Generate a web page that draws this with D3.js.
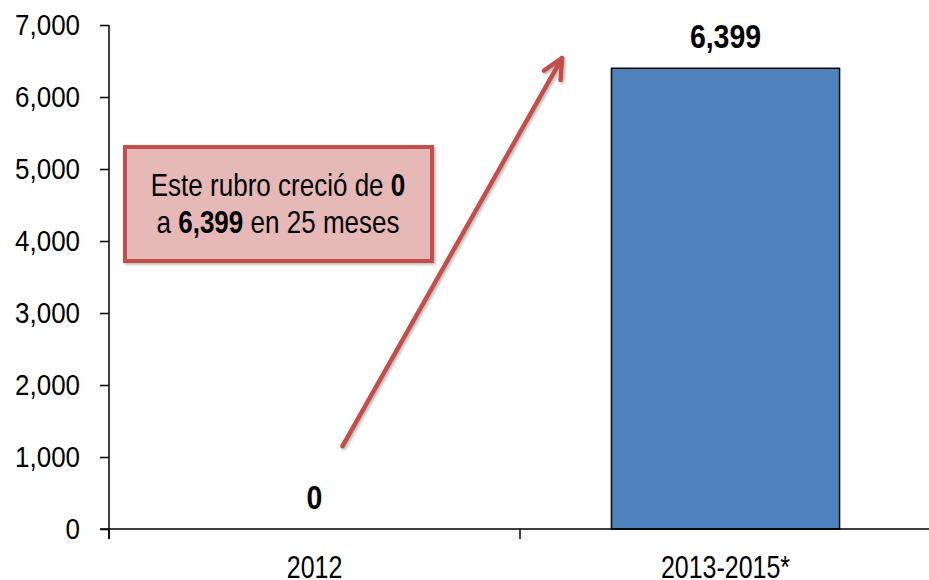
<!DOCTYPE html>
<html lang="es">
<head>
<meta charset="utf-8">
<script src="https://cdn.jsdelivr.net/npm/d3@7"></script>
<style>
  body { margin: 0; background: #fff; }
  text { font-family: "Liberation Sans", Arial, sans-serif; fill: #000; }
</style>
</head>
<body>
<svg id="chart" width="929" height="580"></svg>
<script>
// data
const categories = ["2012", "2013-2015*"];
const values = [0, 6399];
const yTicks = [0, 1000, 2000, 3000, 4000, 5000, 6000, 7000];
const noteLine1 = ["Este rubro creció de ", "0"];
const noteLine2 = ["a ", "6,399", " en 25 meses"];

const w = 929, h = 580;
const svg = d3.select("#chart");

const x = d3.scaleBand()
  .domain(categories)
  .range([109, 931]);

const y = d3.scaleLinear()
  .domain([0, 7000])
  .range([529, 25]);

const fmt = d3.format(",");

// narrow text: place at (px,py) and squeeze horizontally
function squeeze(sel, px, py, s) {
  return sel.attr("transform", (d, i) => {
    const X = typeof px === "function" ? px(d, i) : px;
    const Y = typeof py === "function" ? py(d, i) : py;
    return "translate(" + X + "," + Y + ") scale(" + s + ",1)";
  });
}

// bars
const barW = x.bandwidth() * 0.555;
svg.selectAll("rect.bar")
  .data(values)
  .enter()
  .append("rect")
  .attr("class", "bar")
  .attr("x", (d, i) => x(categories[i]) + (x.bandwidth() - barW) / 2)
  .attr("y", d => y(d))
  .attr("width", barW)
  .attr("height", d => y(0) - y(d))
  .attr("fill", "#4F81BD")
  .attr("stroke", d => d > 0 ? "#000" : "none")
  .attr("stroke-width", 1.5);

// value labels
svg.selectAll("text.val")
  .data(values)
  .enter()
  .append("text")
  .attr("class", "val")
  .attr("text-anchor", "middle")
  .attr("font-size", 33.5)
  .attr("font-weight", "bold")
  .call(squeeze, (d, i) => x(categories[i]) + x.bandwidth() / 2, d => y(d) - 20, 0.85)
  .text(d => fmt(d));

// y axis
const yAxis = d3.axisLeft(y).tickValues(yTicks).tickFormat(fmt).tickSize(9).tickPadding(20);
const gy = svg.append("g")
  .attr("transform", "translate(109,0)")
  .call(yAxis);
gy.select(".domain").attr("d", "M0,25V539").attr("stroke", "#000").attr("stroke-width", 1.5);
gy.selectAll(".tick line").attr("stroke", "#000").attr("stroke-width", 1.5);
gy.selectAll(".tick text")
  .attr("font-size", 29.5)
  .attr("fill", "#000")
  .style("font-family", "'Liberation Sans', Arial, sans-serif")
  .attr("x", -29 / 0.88)
  .attr("transform", "scale(0.88,1)");

// x axis
const gx = svg.append("g")
  .attr("transform", "translate(0," + y(0) + ")");
gx.append("line")
  .attr("x1", 100).attr("x2", w)
  .attr("stroke", "#000").attr("stroke-width", 1.5);
gx.selectAll("line.tk")
  .data(categories)
  .enter()
  .append("line")
  .attr("class", "tk")
  .attr("x1", d => x(d)).attr("x2", d => x(d))
  .attr("y1", 0).attr("y2", 10)
  .attr("stroke", "#000").attr("stroke-width", 1.5);
gx.selectAll("text.cat")
  .data(categories)
  .enter()
  .append("text")
  .attr("class", "cat")
  .attr("text-anchor", "middle")
  .attr("font-size", 32)
  .call(squeeze, d => x(d) + x.bandwidth() / 2, 48.5, 0.78)
  .text(d => d);

// arrow
const defs = svg.append("defs");
defs.append("filter").attr("id", "sh")
  .append("feDropShadow")
  .attr("dx", 1.5).attr("dy", 1.5).attr("stdDeviation", 1.5)
  .attr("flood-color", "#000").attr("flood-opacity", 0.3);

const ax1 = x(categories[0]) + x.bandwidth() / 2 + 28, ay1 = y(1150);
const ax2 = 562, ay2 = y(6540);
const ang = Math.atan2(ay2 - ay1, ax2 - ax1);
const headLen = 22, spread = 0.45;
const arrow = svg.append("g").attr("filter", "url(#sh)");
arrow.append("line")
  .attr("x1", ax1).attr("y1", ay1).attr("x2", ax2).attr("y2", ay2)
  .attr("stroke", "#C0504D").attr("stroke-width", 4.5).attr("stroke-linecap", "round");
arrow.append("path")
  .attr("d", d3.line()([
    [ax2 - headLen * Math.cos(ang - spread), ay2 - headLen * Math.sin(ang - spread)],
    [ax2, ay2],
    [ax2 - headLen * Math.cos(ang + spread), ay2 - headLen * Math.sin(ang + spread)]
  ]))
  .attr("fill", "none").attr("stroke", "#C0504D").attr("stroke-width", 4.5)
  .attr("stroke-linecap", "round").attr("stroke-linejoin", "round");

// annotation box
const note = svg.append("g");
note.append("rect")
  .attr("x", 125).attr("y", 147).attr("width", 307).attr("height", 114)
  .attr("fill", "#E6B9B8").attr("stroke", "#C0504D").attr("stroke-width", 4)
  .attr("filter", "url(#sh)");
const t1 = note.append("text")
  .attr("text-anchor", "middle").attr("font-size", 31)
  .call(squeeze, 278, 196, 0.84);
t1.append("tspan").text(noteLine1[0]);
t1.append("tspan").attr("font-weight", "bold").text(noteLine1[1]);
const t2 = note.append("text")
  .attr("text-anchor", "middle").attr("font-size", 31)
  .call(squeeze, 278, 233, 0.84);
t2.append("tspan").text(noteLine2[0]);
t2.append("tspan").attr("font-weight", "bold").text(noteLine2[1]);
t2.append("tspan").text(noteLine2[2]);
</script>
</body>
</html>
